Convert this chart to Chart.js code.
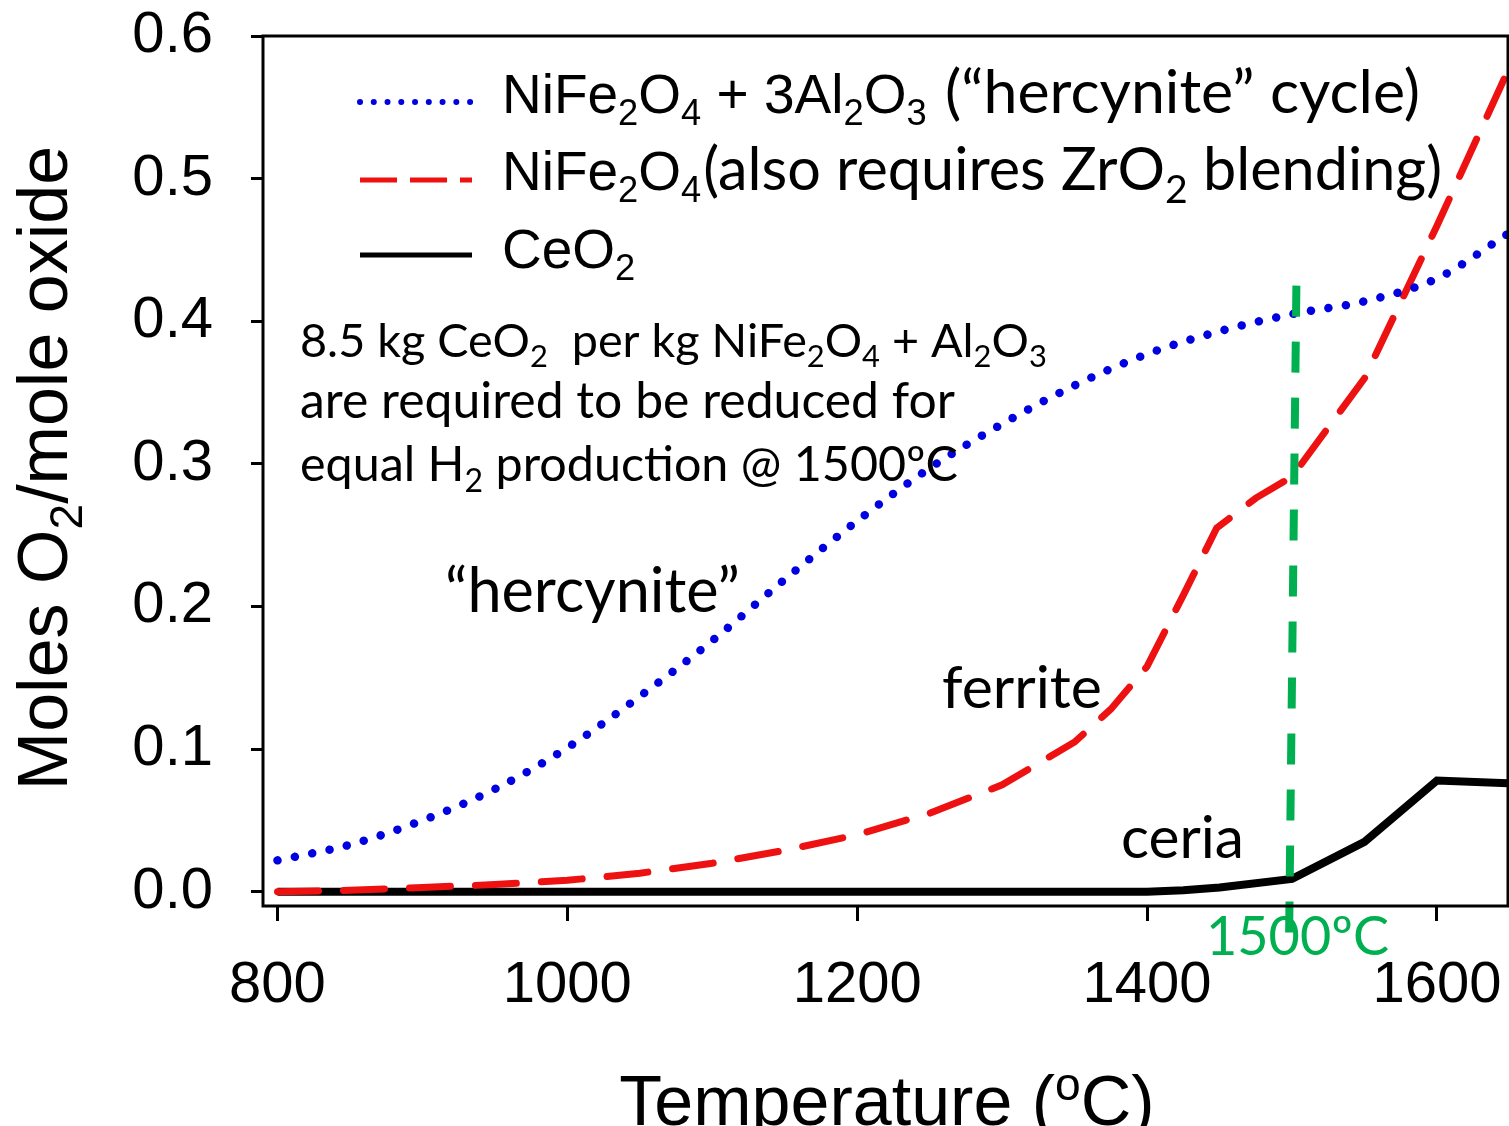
<!DOCTYPE html>
<html>
<head>
<meta charset="utf-8">
<script src="https://cdn.jsdelivr.net/npm/chart.js@4.4.0/dist/chart.umd.min.js"></script>
<style>
  html, body { margin: 0; padding: 0; background: #fff; }
  canvas { display: block; }
</style>
</head>
<body>
<canvas id="chart" width="1509" height="1126"></canvas>
<script>
// ===============================
// Data
// ===============================
const hercyniteTemps = [800, 850, 900, 950, 1000, 1050, 1100, 1150, 1200, 1250, 1300, 1350, 1400, 1450, 1500, 1550, 1600, 1650];
const hercyniteO2    = [0.022, 0.033, 0.050, 0.072, 0.101, 0.137, 0.176, 0.219, 0.260, 0.297, 0.328, 0.355, 0.377, 0.393, 0.405, 0.414, 0.430, 0.462];

const ferriteTemps = [800, 850, 900, 950, 1000, 1050, 1100, 1150, 1200, 1250, 1300, 1350, 1375, 1400, 1425, 1448, 1475, 1500, 1550, 1600, 1650];
const ferriteO2    = [0.000, 0.001, 0.003, 0.005, 0.008, 0.013, 0.020, 0.029, 0.040, 0.055, 0.075, 0.105, 0.128, 0.158, 0.208, 0.255, 0.276, 0.291, 0.360, 0.467, 0.578];

const ceriaTemps = [800, 1400, 1425, 1450, 1500, 1550, 1600, 1650];
const ceriaO2    = [0.000, 0.000, 0.001, 0.003, 0.009, 0.035, 0.078, 0.076];

// marker line at 1500 C (drawn a little past the axis, like the slide)
const markerTemps = [1503, 1498];
const markerO2    = [0.425, -0.0287];

const xTicks = [800, 1000, 1200, 1400, 1600];
const yTicks = [0.0, 0.1, 0.2, 0.3, 0.4, 0.5, 0.6];

const BLUE = "#0000e0";
const RED = "#ee1111";
const GREEN = "#00b050";
const ARIAL = "Liberation Sans";
const CALIBRI = "Lato";

function toPoints(xs, ys) {
  return xs.map((x, i) => ({ x: x, y: ys[i] }));
}

// ===============================
// Text helpers (sub / superscripts)
// ===============================
function partsWidth(ctx, parts, family, size) {
  let w = 0;
  parts.forEach(([t, k]) => {
    ctx.font = `${k ? size * 0.66 : size}px "${family}"`;
    w += ctx.measureText(t).width;
  });
  return w;
}

function drawParts(ctx, parts, x, y, family, size, color) {
  ctx.fillStyle = color;
  ctx.textAlign = "left";
  ctx.textBaseline = "alphabetic";
  parts.forEach(([t, k]) => {
    const s = k ? size * 0.66 : size;
    const dy = k === "sub" ? size * 0.22 : (k === "sup" ? -size * 0.36 : 0);
    ctx.font = `${s}px "${family}"`;
    ctx.fillText(t, x, y + dy);
    x += ctx.measureText(t).width;
  });
  return x;
}

// stretch a Calibri-like run to the width it has on the slide
function fitParts(ctx, parts, x0, x1, y, color) {
  const size = 100 * (x1 - x0) / partsWidth(ctx, parts, CALIBRI, 100);
  drawParts(ctx, parts, x0, y, CALIBRI, size, color);
}

function legendLine(ctx, y, color, width, dash, cap) {
  ctx.save();
  ctx.strokeStyle = color;
  ctx.lineWidth = width;
  ctx.setLineDash(dash);
  ctx.lineCap = cap;
  ctx.beginPath();
  ctx.moveTo(360, y);
  ctx.lineTo(472, y);
  ctx.stroke();
  ctx.restore();
}

// ===============================
// Plugin: box, titles, legend, notes
// ===============================
const decorPlugin = {
  id: "decor",
  afterDraw(chart) {
    const ctx = chart.ctx;
    const a = chart.chartArea;
    ctx.save();

    // box around plot
    ctx.strokeStyle = "#000";
    ctx.lineWidth = 3;
    ctx.strokeRect(a.left, a.top, a.right - a.left, a.bottom - a.top);

    // axis titles
    const yTitle = [["Moles O"], ["2", "sub"], ["/mole oxide"]];
    ctx.save();
    ctx.translate(67, 468);
    ctx.rotate(-Math.PI / 2);
    drawParts(ctx, yTitle, -partsWidth(ctx, yTitle, ARIAL, 70) / 2, 0, ARIAL, 70, "#000");
    ctx.restore();

    const xTitle = [["Temperature ("], ["o", "sup"], ["C)"]];
    drawParts(ctx, xTitle, 887 - partsWidth(ctx, xTitle, ARIAL, 70) / 2, 1125, ARIAL, 70, "#000");

    // legend
    legendLine(ctx, 102, BLUE, 6, [0.01, 13.75], "round");
    legendLine(ctx, 180, RED, 5, [37, 13], "butt");
    legendLine(ctx, 255, "#000", 5, [], "butt");

    drawParts(ctx, [["NiFe"], ["2", "sub"], ["O"], ["4", "sub"], [" + 3Al"], ["2", "sub"], ["O"], ["3", "sub"]],
      502, 113, ARIAL, 55, "#000");
    fitParts(ctx, [["(\u201chercynite\u201d cycle)"]], 945, 1420, 113, "#000");

    const endX = drawParts(ctx, [["NiFe"], ["2", "sub"], ["O"], ["4", "sub"]], 502, 190, ARIAL, 55, "#000");
    fitParts(ctx, [["(also requires ZrO"], ["2", "sub"], [" blending)"]], endX + 2, 1442, 190, "#000");

    drawParts(ctx, [["CeO"], ["2", "sub"]], 502, 268, ARIAL, 55, "#000");

    // note block
    fitParts(ctx, [["8.5 kg CeO"], ["2", "sub"], ["  per kg NiFe"], ["2", "sub"], ["O"], ["4", "sub"],
      [" + Al"], ["2", "sub"], ["O"], ["3", "sub"]], 300, 1047, 357, "#000");
    fitParts(ctx, [["are required to be reduced for"]], 300, 955, 418, "#000");
    fitParts(ctx, [["equal H"], ["2", "sub"], [" production @ 1500\u00baC"]], 300, 958, 481, "#000");

    // curve labels
    fitParts(ctx, [["\u201chercynite\u201d"]], 445, 740, 612, "#000");
    fitParts(ctx, [["ferrite"]], 942, 1102, 708, "#000");
    fitParts(ctx, [["ceria"]], 1121, 1244, 858, "#000");
    fitParts(ctx, [["1500\u00baC"]], 1206, 1389, 955, GREEN);

    ctx.restore();
  }
};

// ===============================
// Chart
// ===============================
Chart.defaults.font.family = ARIAL;
Chart.defaults.color = "#000";

new Chart(document.getElementById("chart"), {
  type: "line",
  data: {
    datasets: [
      {
        label: "1500 C",
        data: toPoints(markerTemps, markerO2),
        borderColor: GREEN,
        borderWidth: 8,
        borderDash: [31, 25],
        borderCapStyle: "butt",
        pointRadius: 0,
        clip: false,
        order: 0
      },
      {
        label: "NiFe2O4 + 3Al2O3",
        data: toPoints(hercyniteTemps, hercyniteO2),
        borderColor: BLUE,
        borderWidth: 8.5,
        borderDash: [0.01, 17.7],
        borderCapStyle: "round",
        cubicInterpolationMode: "monotone",
        pointRadius: 0,
        order: 1
      },
      {
        label: "NiFe2O4",
        data: toPoints(ferriteTemps, ferriteO2),
        borderColor: RED,
        borderWidth: 7,
        borderDash: [41, 25],
        borderCapStyle: "round",
        tension: 0,
        pointRadius: 0,
        order: 2
      },
      {
        label: "CeO2",
        data: toPoints(ceriaTemps, ceriaO2),
        borderColor: "#000",
        borderWidth: 8,
        tension: 0,
        pointRadius: 0,
        order: 3
      }
    ]
  },
  options: {
    responsive: false,
    animation: false,
    devicePixelRatio: 1,
    layout: { padding: { top: 36, right: 1, left: 0, bottom: 0 } },
    plugins: {
      legend: { display: false },
      tooltip: { enabled: false }
    },
    scales: {
      x: {
        type: "linear",
        min: 790,
        max: 1649,
        afterFit: s => {
          s.height = 220;
          s.paddingLeft = 0;
          s.paddingRight = 0;
        },
        afterBuildTicks: s => { s.ticks = xTicks.map(v => ({ value: v })); },
        grid: {
          drawOnChartArea: false,
          drawTicks: true,
          tickLength: 15,
          color: "#000",
          lineWidth: 3
        },
        border: { display: false },
        ticks: {
          font: { size: 58 },
          color: "#000",
          padding: 30,
          maxRotation: 0,
          callback: v => String(v)
        }
      },
      y: {
        type: "linear",
        min: -0.01,
        max: 0.6,
        afterFit: s => {
          s.width = 263;
          s.paddingTop = 0;
          s.paddingBottom = 0;
        },
        afterBuildTicks: s => { s.ticks = yTicks.map(v => ({ value: v })); },
        grid: {
          drawOnChartArea: false,
          drawTicks: true,
          tickLength: 12,
          color: "#000",
          lineWidth: 3
        },
        border: { display: false },
        ticks: {
          font: { size: 58 },
          color: "#000",
          padding: 38,
          callback: v => v.toFixed(1)
        }
      }
    }
  },
  plugins: [decorPlugin]
});
</script>
</body>
</html>
